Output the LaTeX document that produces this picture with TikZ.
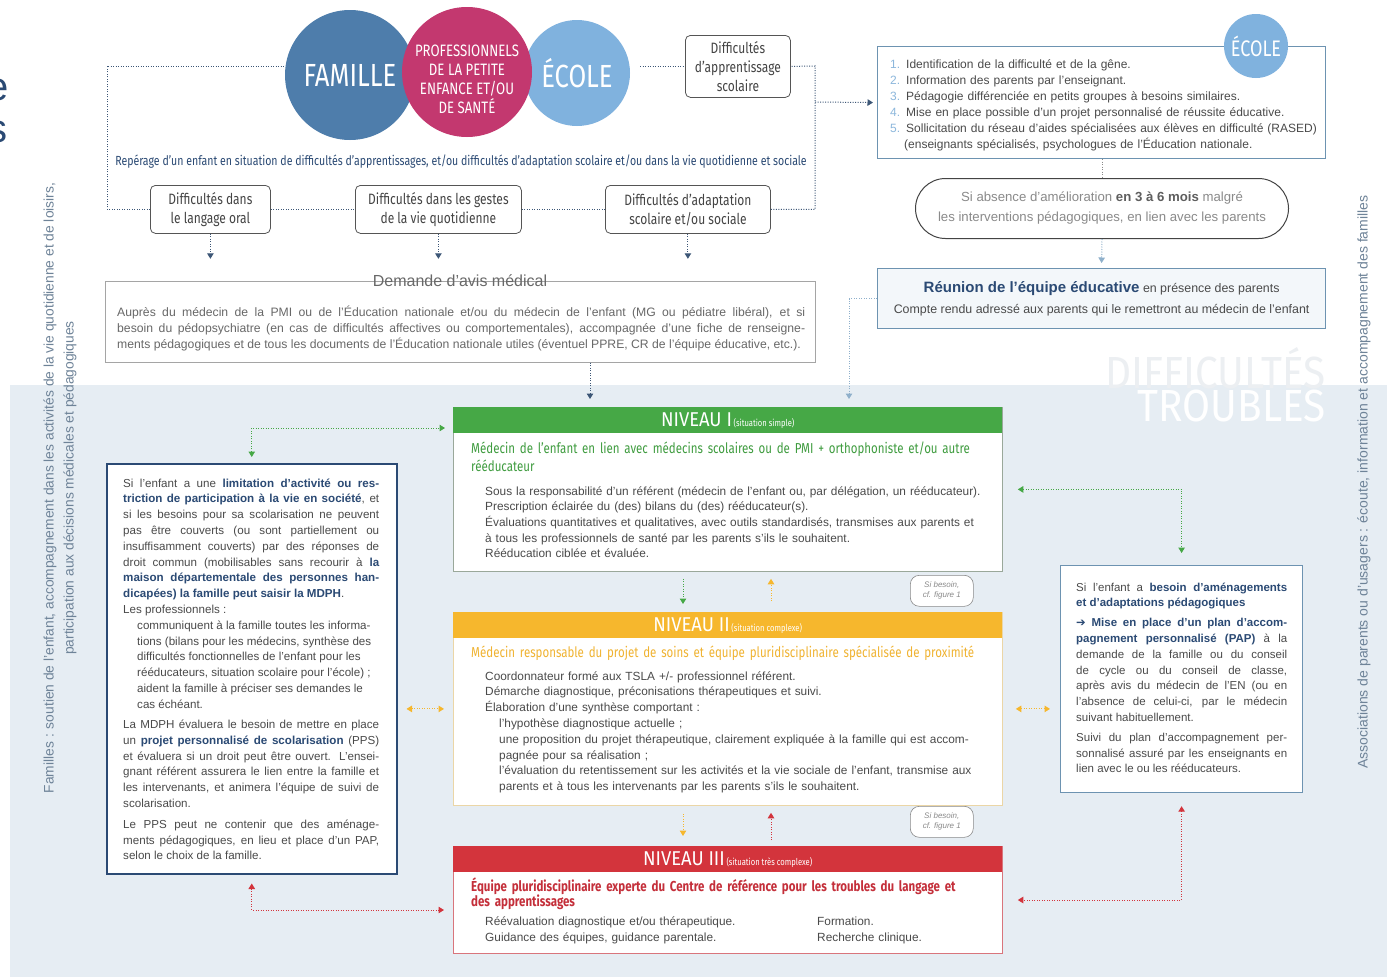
\documentclass[tikz,border=0pt]{standalone}
\usepackage{fontspec}
\setmainfont{Liberation Sans}
\newfontfamily\cond[FakeStretch=0.8]{Fira Sans}
\newfontfamily\condh[FakeStretch=0.92]{Fira Sans}
\newfontfamily\wmf[FakeStretch=0.9]{Fira Sans}
\newfontfamily\djv{DejaVu Sans}
\usetikzlibrary{arrows.meta,calc}
\newcommand{\setfs}[2]{\fontsize{#1}{#2}\selectfont}
\definecolor{band}{HTML}{E6EDF3}
\definecolor{navy}{HTML}{2B4A74}
\definecolor{dotnavy}{HTML}{3C5676}
\definecolor{boxgray}{HTML}{555555}
\definecolor{labgray}{HTML}{444444}
\definecolor{demgray}{HTML}{A5A5A5}
\definecolor{demtext}{HTML}{686868}
\definecolor{bodygray}{HTML}{4A4A4A}
\definecolor{steel}{HTML}{6D93B1}
\definecolor{lsteel}{HTML}{8FB0CB}
\definecolor{numblue}{HTML}{8CB7DC}
\definecolor{pillgray}{HTML}{444444}
\definecolor{pilltext}{HTML}{8A8A8A}
\definecolor{pillbold}{HTML}{5E5E5E}
\definecolor{reufill}{HTML}{F3F7FA}
\definecolor{ngreen}{HTML}{46A846}
\definecolor{ngreentx}{HTML}{3F9C3F}
\definecolor{nonebord}{HTML}{9AA89A}
\definecolor{norange}{HTML}{F6B72D}
\definecolor{norangetx}{HTML}{F0B331}
\definecolor{ntwobord}{HTML}{EBD6A6}
\definecolor{nred}{HTML}{D3343C}
\definecolor{nredtx}{HTML}{C42F3A}
\definecolor{nthreebord}{HTML}{D9757C}
\definecolor{vtext}{HTML}{6E8398}
\definecolor{wmgray}{HTML}{ECEFF2}
\definecolor{famblue}{HTML}{4E7DAB}
\definecolor{pinkc}{HTML}{C3386F}
\definecolor{ecoleblue}{HTML}{80B2DE}
\definecolor{sbgray}{HTML}{8A8A8A}
\newcommand{\niv}[2]{{\condh\setfs{20}{20}#1}\,{\cond\setfs{9.5}{10}#2}}
\newcommand{\nb}[1]{\textcolor{navy}{\bfseries #1}}
\tikzset{
 dotl/.style={line width=1pt, dash pattern=on 1pt off 1.5pt},
 tipe/.style={-{Triangle[width=6.5pt,length=5.5pt]}},
 tipb/.style={{Triangle[width=6.5pt,length=5.5pt]}-{Triangle[width=6.5pt,length=5.5pt]}},
 rbox/.style={draw=boxgray, line width=0.8pt, rounded corners=5pt, fill=white, inner sep=0pt, anchor=north west, align=center, text=labgray, font=\cond\setfs{15}{19}},
 plainbox/.style={anchor=north west, inner sep=0pt, fill=white},
 txt/.style={anchor=base west, inner sep=0pt, align=left},
 header/.style={anchor=north west, inner sep=0pt, minimum width=549pt, minimum height=26pt, text=white},
 sbpill/.style={draw=sbgray, line width=0.6pt, rounded corners=9pt, fill=white, anchor=north west, minimum width=63pt, minimum height=31pt, inner sep=0pt, align=center, text=sbgray, font=\itshape\setfs{8}{10}},
 bigc/.style={circle, inner sep=0pt, text=white, align=center},
}
\begin{document}
\begin{tikzpicture}[x=1pt,y=-1pt]
\useasboundingbox (0,0) rectangle (1387,977);
\fill[white] (0,0) rectangle (1387,977);
% band
\fill[band] (10,385) rectangle (1387,977);
% watermark
\node[anchor=base east, inner sep=0, align=right, font=\wmf\setfs{45}{33}] (wm) at (1326,421) {\textcolor{wmgray}{DIFFICULTÉS}\\\textcolor{white}{TROUBLES}};
% fragments of previous page
\node[anchor=base west, inner sep=0, text=navy, font=\setfs{40}{40}] (frage) at (-14,100) {e};
\node[anchor=base west, inner sep=0, text=navy, font=\setfs{40}{40}] (frags) at (-13,142) {s};
% vertical texts
\node[rotate=90, inner sep=0, text=vtext, align=center, font=\setfs{13.8}{20}] (famtxt) at (60,488) {Familles : soutien de l’enfant, accompagnement dans les activités de la vie quotidienne et de loisirs,\\participation aux décisions médicales et pédagogiques};
\node[rotate=90, inner sep=0, text=vtext, font=\setfs{14}{20}] (asstxt) at (1364,482) {Associations de parents ou d’usagers : écoute, information et accompagnement des familles};

% circles
\node[bigc, fill=famblue, minimum size=130pt, font=\cond\setfs{32}{32}] (famille) at (350,75) {FAMILLE};
\node[bigc, fill=ecoleblue, minimum size=106pt, font=\cond\setfs{32}{32}] (ecole) at (577,73) {ÉCOLE};
\node[bigc, fill=pinkc, minimum size=130pt] (pro) at (467,72) {};
\node[inner sep=0, text=white, align=center, font=\cond\setfs{16.5}{19}] (protxt) at (467,79) {PROFESSIONNELS\\DE LA PETITE\\ENFANCE ET/OU\\DE SANTÉ};

\node[rbox, minimum width=105pt, minimum height=62pt] (dapp) at (685,35) {Difficultés\\d’apprentissage\\scolaire};

\node[inner sep=0, text=navy, font=\cond\setfs{13.2}{14}] (reperage) at (461,162) {Repérage d’un enfant en situation de difficultés d’apprentissages, et/ou difficultés d’adaptation scolaire et/ou dans la vie quotidienne et sociale};

\node[rbox, minimum width=120pt, minimum height=48pt] (d1) at (150,185) {Difficultés dans\\le langage oral};
\node[rbox, minimum width=166pt, minimum height=48pt] (d2) at (355,185) {Difficultés dans les gestes\\de la vie quotidienne};
\node[rbox, minimum width=165pt, minimum height=48pt] (d3) at (605,185) {Difficultés d’adaptation\\scolaire et/ou sociale};

% demande box
\node[plainbox, draw=demgray, line width=0.8pt, minimum width=710pt, minimum height=81pt] (demande) at (105,281) {};
\node[inner sep=0, text=demtext, font=\setfs{16}{16}] (demtitle) at (460,281) {Demande d’avis médical};
\node[txt, text width=688pt, align=justify, text=demtext, font=\setfs{12.2}{16}] (demtxt) at (117,316) {\parfillskip=0pt Auprès du médecin de la PMI ou de l’Éducation nationale et/ou du médecin de l’enfant (MG ou pédiatre libéral), et si\linebreak besoin du pédopsychiatre (en cas de difficultés affectives ou comportementales), accompagnée d’une fiche de renseigne-\linebreak ments pédagogiques et de tous les documents de l’Éducation nationale utiles (éventuel PPRE, CR de l’équipe éducative, etc.).};

% ecole box
\node[plainbox, draw=steel, line width=1.2pt, minimum width=448pt, minimum height=112pt] (ecolebox) at (877,46) {};
\node[bigc, fill=ecoleblue, minimum size=64pt, font=\cond\setfs{22.5}{22}] (ecolebadge) at (1256,46) {ÉCOLE};
\node[txt, text width=435pt, text=bodygray, font=\setfs{12}{16}] (ecolelist) at (890,68) {%
\textcolor{numblue}{1.} Identification de la difficulté et de la gêne.\\
\textcolor{numblue}{2.} Information des parents par l’enseignant.\\
\textcolor{numblue}{3.} Pédagogie différenciée en petits groupes à besoins similaires.\\
\textcolor{numblue}{4.} Mise en place possible d’un projet personnalisé de réussite éducative.\\
\textcolor{numblue}{5.} Sollicitation du réseau d’aides spécialisées aux élèves en difficulté (RASED)\\
\phantom{5.} (enseignants spécialisés, psychologues de l’Éducation nationale.};

% pill
\node[plainbox, draw=pillgray, line width=1pt, rounded corners=30pt, minimum width=373pt, minimum height=60pt, align=center, text=pilltext, font=\setfs{13.2}{20}] (pill) at (915,178) {Si absence d’amélioration \textcolor{pillbold}{\bfseries en 3 à 6 mois} malgré\\les interventions pédagogiques, en lien avec les parents};

% reunion
\node[plainbox, draw=steel, fill=reufill, line width=1.2pt, minimum width=448pt, minimum height=60pt, align=center, text=bodygray, font=\setfs{12.4}{21}] (reunion) at (877,268) {{\setfs{15}{21}\nb{Réunion de l’équipe éducative}} en présence des parents\\Compte rendu adressé aux parents qui le remettront au médecin de l’enfant};

% niveau I
\node[plainbox, draw=nonebord, line width=0.8pt, minimum width=549pt, minimum height=164pt] (niv1) at (453,407) {};
\node[header, fill=ngreen] (n1head) at (453,407) {\niv{NIVEAU I}{(situation simple)}};
\node[txt, text width=530pt, text=ngreentx, font=\cond\setfs{14.4}{18}] (n1sub) at (471,453) {Médecin de l’enfant en lien avec médecins scolaires ou de PMI + orthophoniste et/ou autre\\rééducateur};
\node[txt, text width=515pt, text=bodygray, font=\setfs{11.85}{15.7}] (n1body) at (485,495) {Sous la responsabilité d’un référent (médecin de l’enfant ou, par délégation, un rééducateur).\\
Prescription éclairée du (des) bilans du (des) rééducateur(s).\\
Évaluations quantitatives et qualitatives, avec outils standardisés, transmises aux parents et\\
à tous les professionnels de santé par les parents s’ils le souhaitent.\\
Rééducation ciblée et évaluée.};

% niveau II
\node[plainbox, draw=ntwobord, line width=0.8pt, minimum width=549pt, minimum height=193pt] (niv2) at (453,612) {};
\node[header, fill=norange] (n2head) at (453,612) {\niv{NIVEAU II}{(situation complexe)}};
\node[txt, text width=540pt, text=norangetx, font=\cond\setfs{14.4}{18}] (n2sub) at (471,657) {Médecin responsable du projet de soins et équipe pluridisciplinaire spécialisée de proximité};
\node[txt, text width=515pt, text=bodygray, font=\setfs{11.85}{15.8}] (n2body) at (485,680) {Coordonnateur formé aux TSLA +/- professionnel référent.\\
Démarche diagnostique, préconisations thérapeutiques et suivi.\\
Élaboration d’une synthèse comportant :\\
\hspace*{14pt}l’hypothèse diagnostique actuelle ;\\
\hspace*{14pt}une proposition du projet thérapeutique, clairement expliquée à la famille qui est accom-\\
\hspace*{14pt}pagnée pour sa réalisation ;\\
\hspace*{14pt}l’évaluation du retentissement sur les activités et la vie sociale de l’enfant, transmise aux\\
\hspace*{14pt}parents et à tous les intervenants par les parents s’ils le souhaitent.};

% niveau III
\node[plainbox, draw=nthreebord, line width=0.8pt, minimum width=549pt, minimum height=107pt] (niv3) at (453,846) {};
\node[header, fill=nred] (n3head) at (453,846) {\niv{NIVEAU III}{(situation très complexe)}};
\node[txt, text width=530pt, text=nredtx, font=\cond\bfseries\setfs{14.4}{14}] (n3sub) at (471,891) {Équipe pluridisciplinaire experte du Centre de référence pour les troubles du langage et\\des apprentissages};
\node[txt, text width=320pt, text=bodygray, font=\setfs{11.85}{16}] (n3bodya) at (485,925) {Réévaluation diagnostique et/ou thérapeutique.\\Guidance des équipes, guidance parentale.};
\node[txt, text width=170pt, text=bodygray, font=\setfs{11.85}{16}] (n3bodyb) at (817,925) {Formation.\\Recherche clinique.};

% si besoin pills
\node[sbpill] (sb1) at (910,575) {Si besoin,\\cf. figure 1};
\node[sbpill] (sb2) at (910,806) {Si besoin,\\cf. figure 1};

% left box
\node[plainbox, draw=navy, line width=1.5pt, minimum width=290pt, minimum height=410pt] (leftbox) at (106,463) {};
\node[txt, text width=256pt, align=justify, text=bodygray, font=\setfs{11.6}{15.8}] (lefttxt) at (123,487) {%
Si l’enfant a une \nb{limitation d’activité ou res-}\linebreak
\nb{triction de participation à la vie en société}, et\linebreak
si les besoins pour sa scolarisation ne peuvent\linebreak
pas être couverts (ou sont partiellement ou\linebreak
insuffisamment couverts) par des réponses de\linebreak
droit commun (mobilisables sans recourir à \nb{la}\linebreak
\nb{maison départementale des personnes han-}\linebreak
\nb{dicapées) la famille peut saisir la MDPH}.\\
Les professionnels :\\
\hspace*{14pt}communiquent à la famille toutes les informa-\\
\hspace*{14pt}tions (bilans pour les médecins, synthèse des\\
\hspace*{14pt}difficultés fonctionnelles de l’enfant pour les\\
\hspace*{14pt}rééducateurs, situation scolaire pour l’école) ;\\
\hspace*{14pt}aident la famille à préciser ses demandes le\\
\hspace*{14pt}cas échéant.\par\vspace{4.5pt}
La MDPH évaluera le besoin de mettre en place\linebreak
un \nb{projet personnalisé de scolarisation} (PPS)\linebreak
et évaluera si un droit peut être ouvert. L’ensei-\linebreak
gnant référent assurera le lien entre la famille et\linebreak
les intervenants, et animera l’équipe de suivi de\linebreak
scolarisation.\par\vspace{5pt}
Le PPS peut ne contenir que des aménage-\linebreak
ments pédagogiques, en lieu et place d’un PAP,\linebreak
selon le choix de la famille.};

% right box
\node[plainbox, draw=steel, line width=1.2pt, minimum width=242pt, minimum height=227pt] (rightbox) at (1060,565) {};
\node[txt, text width=211pt, align=justify, text=bodygray, font=\setfs{11.5}{15.8}] (righttxt) at (1076,591) {%
Si l’enfant a \nb{besoin d’aménagements}\linebreak
\nb{et d’adaptations pédagogiques}\par\vspace{4pt}
\nb{{\djv ➔} Mise en place d’un plan d’accom-}\linebreak
\nb{pagnement personnalisé (PAP)} à la\linebreak
demande de la famille ou du conseil\linebreak
de cycle ou du conseil de classe,\linebreak
après avis du médecin de l’EN (ou en\linebreak
l’absence de celui-ci, par le médecin\linebreak
suivant habituellement.\par\vspace{4pt}
Suivi du plan d’accompagnement per-\linebreak
sonnalisé assuré par les enseignants en\linebreak
lien avec le ou les rééducateurs.};

% ---------- connectors ----------
\coordinate (tl) at (107,66);
\coordinate (tr) at (815,66);
\coordinate (trb) at (815,102);
\draw[dotl, dotnavy] (d1.west) -| (tl) -- (tl -| famille.west);
\draw[dotl, dotnavy] (d1.east) -- (d2.west);
\draw[dotl, dotnavy] (d2.east) -- (d3.west);
\draw[dotl, dotnavy] (d3.east) -| (tr) -- (dapp.east);
\draw[dotl, dotnavy] ($(ecole.east |- dapp.west)+(10,0)$) -- (dapp.west);
\draw[dotl, dotnavy, tipe, shorten >=4pt] (trb) -- (ecolebox.west);
\foreach \n in {d1,d2,d3} \draw[dotl, dotnavy, tipe] (\n.south) -- ++(0,25);
\coordinate (n1a) at (590,399);
\draw[dotl, dotnavy, tipe] (demande.south -| n1a) -- (n1a);
\draw[dotl, pilltext] (ecolebox.south -| pill.north) -- (pill.north);
\draw[dotl, lsteel, tipe] (pill.south) -- ($(reunion.north)+(0,-5)$);
\coordinate (n1b) at (849,399);
\draw[dotl, lsteel, tipe] (reunion.west) -| (n1b);
% levels
\draw[dotl, ngreen, tipe] ($(niv1.south west)+(230,7)$) -- ($(niv2.north west)+(230,-8)$);
\draw[dotl, norange, tipe] ($(niv2.north west)+(318,-11)$) -- ($(niv1.south west)+(318,7)$);
\draw[dotl, norange, tipe] ($(niv2.south west)+(230,8)$) -- ($(niv3.north west)+(230,-10)$);
\draw[dotl, nred, tipe] ($(niv3.north west)+(318,-6)$) -- ($(niv2.south west)+(318,7)$);
% left side
\coordinate (gL) at (252,428);
\draw[dotl, ngreen, tipb] ($(leftbox.north)+(0,-6)$) -- (leftbox.north |- gL) -- ($(niv1.west |- gL)+(-8,0)$);
\draw[dotl, norange, tipb] ($(leftbox.east |- niv2.west)+(9,0)$) -- ($(niv2.west)+(-9,0)$);
\coordinate (rL) at (252,910);
\draw[dotl, nred, tipb] ($(leftbox.south)+(0,9)$) -- (leftbox.south |- rL) -- ($(niv3.west |- rL)+(-9,0)$);
% right side
\draw[dotl, ngreen, tipb] ($(niv1.east)+(15,0)$) -- (rightbox.north |- niv1.east) -- ($(rightbox.north)+(0,-12)$);
\draw[dotl, norange, tipb] ($(niv2.east)+(13,0)$) -- ($(rightbox.west |- niv2.east)+(-10,0)$);
\coordinate (rR) at (1181,900);
\draw[dotl, nred, tipb] ($(rightbox.south)+(0,13)$) -- (rightbox.south |- rR) -- ($(niv3.east |- rR)+(15,0)$);
\end{tikzpicture}
\end{document}
